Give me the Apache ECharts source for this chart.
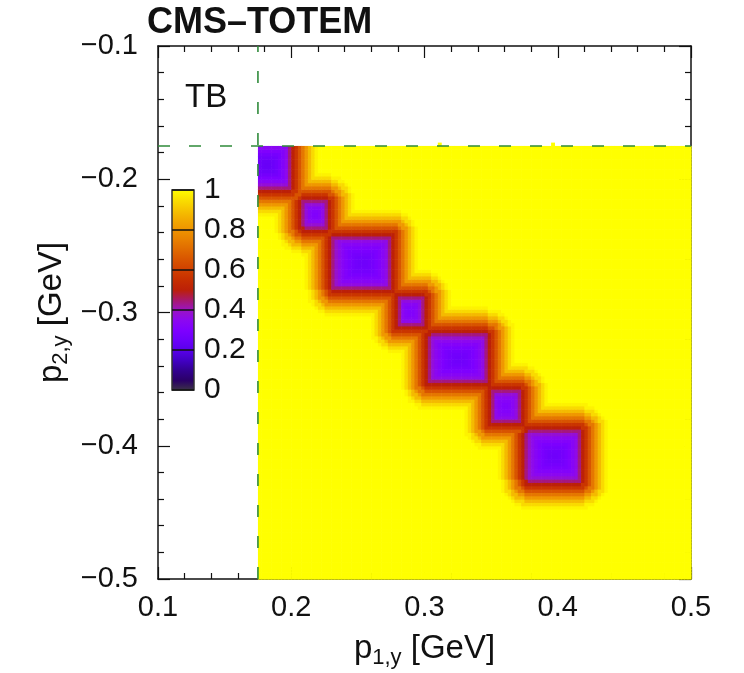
<!DOCTYPE html>
<html>
<head>
<meta charset="utf-8">
<title>CMS-TOTEM p1,y vs p2,y</title>
<script src="https://cdn.jsdelivr.net/npm/echarts@6/dist/echarts.min.js"></script>
<style>
  html, body { margin: 0; padding: 0; background: #ffffff; }
  #chart { width: 744px; height: 673px; }
</style>
</head>
<body>
<div id="chart"></div>
<script>
// ---- Binning of the map (GeV) ----
const binWidth = 0.0025;
const mapXRange = [0.175, 0.5];
const mapYRange = [-0.5, -0.175];

// ---- Low-acceptance islands along the diagonal ----
const islandCentreX = [0.182, 0.2178, 0.2536, 0.2895, 0.3255, 0.3607, 0.3974];
const islandCentreY = [-0.189, -0.2261, -0.2624, -0.2992, -0.3346, -0.3707, -0.4075];
const islandHalfX = [0.0165, 0.0075, 0.0200, 0.0082, 0.0206, 0.0094, 0.0187];
const islandHalfY = [0.0155, 0.0080, 0.0184, 0.0094, 0.0160, 0.0105, 0.0169];
const islandCentreValue = [0.24, 0.31, 0.26, 0.31, 0.26, 0.31, 0.26];
const islandEdgeValue = 0.39;
// values of the rim bins around an island, one bin further out per entry
const rimValues = [0.44, 0.50, 0.57, 0.65, 0.73, 0.81, 0.88, 0.94, 0.98];

// ---- Single filled bins just above the p2,y cut ----
const extraBinX = [0.31125, 0.39625];
const extraBinY = [-0.17375, -0.17375];
const extraBinValue = [1, 1];

// ---- Selection cuts (dashed lines) ----
const cutX = 0.175;
const cutY = -0.175;

// ---- Axes ----
const xRange = [0.1, 0.5];
const yRange = [-0.5, -0.1];
const tickStep = 0.1;
const xTickLabels = ['0.1', '0.2', '0.3', '0.4', '0.5'];
const yTickLabels = ['\u22120.5', '\u22120.4', '\u22120.3', '\u22120.2', '\u22120.1'];
const zRange = [0, 1];
const zStep = 0.2;
const zTickLabels = ['0', '0.2', '0.4', '0.6', '0.8', '1'];

// colour palette, evenly spaced over [0, 1]
const palette = [
  '#3d3545', '#2a0066', '#320090', '#4200c4', '#5800ea', '#6c00fa', '#7e00ff',
  '#8c08f0', '#9a14c4', '#a8186c', '#bc2008', '#c62e00', '#d04000', '#d85400',
  '#e06a00', '#e88000', '#ee9400', '#f2aa00', '#f6c400', '#fae000', '#ffff00'
];

const FONT = '"Liberation Sans", Arial, Helvetica, sans-serif';
const INK = '#111111';

// ---- Fill the map bins ----
function islandValue(k, x, y) {
  const ax = Math.abs(x - islandCentreX[k]);
  const ay = Math.abs(y - islandCentreY[k]);
  const hx = islandHalfX[k], hy = islandHalfY[k];
  if (ax <= hx && ay <= hy) {
    const r = Math.max(ax / hx, ay / hy);
    return islandCentreValue[k] + (islandEdgeValue - islandCentreValue[k]) * r * r;
  }
  const dx = Math.max(0, ax - hx) / binWidth;
  const dy = Math.max(0, ay - hy) / binWidth;
  const ring = Math.ceil(Math.sqrt(dx * dx + dy * dy)) - 1;
  return ring < rimValues.length ? rimValues[ring] : 1;
}

const cells = [];
const nX = Math.round((mapXRange[1] - mapXRange[0]) / binWidth);
const nY = Math.round((mapYRange[1] - mapYRange[0]) / binWidth);
for (let i = 0; i < nX; i++) {
  const x = mapXRange[0] + (i + 0.5) * binWidth;
  for (let j = 0; j < nY; j++) {
    const y = mapYRange[0] + (j + 0.5) * binWidth;
    let v = 1;
    for (let k = 0; k < islandCentreX.length; k++) {
      v = Math.min(v, islandValue(k, x, y));
    }
    cells.push([x, y, v]);
  }
}
for (let k = 0; k < extraBinX.length; k++) {
  cells.push([extraBinX[k], extraBinY[k], extraBinValue[k]]);
}

function renderCell(params, api) {
  const x = api.value(0), y = api.value(1);
  const p0 = api.coord([x - binWidth / 2, y + binWidth / 2]);
  const p1 = api.coord([x + binWidth / 2, y - binWidth / 2]);
  return {
    type: 'rect',
    shape: { x: p0[0], y: p0[1], width: p1[0] - p0[0] + 0.6, height: p1[1] - p0[1] + 0.6 },
    style: { fill: api.visual('color') }
  };
}

function renderColourBar(params, api) {
  const p0 = api.coord([0, zRange[1]]);
  const p1 = api.coord([1, zRange[0]]);
  const stops = palette.map((c, i) => ({ offset: i / (palette.length - 1), color: c }));
  return {
    type: 'rect',
    shape: { x: p0[0], y: p0[1], width: p1[0] - p0[0], height: p1[1] - p0[1] },
    style: {
      fill: { type: 'linear', x: 0, y: 1, x2: 0, y2: 0, colorStops: stops, global: false },
      stroke: '#333333',
      lineWidth: 1.5
    }
  };
}

const tickLine = { color: INK, width: 1.2 };
const frameLine = { show: true, onZero: false, lineStyle: { color: INK, width: 1.5 } };

function labelFrom(list, min) {
  return function (v) {
    const idx = Math.round((v - min) / tickStep);
    return list[idx] !== undefined ? list[idx] : '';
  };
}

const subRich = {
  a: { fontSize: 33, fontFamily: FONT, color: INK },
  s: { fontSize: 22, fontFamily: FONT, color: INK, padding: [18, 0, 0, 0] }
};

function mainAxis(dim, position, withLabels) {
  const isX = dim === 'x';
  const range = isX ? xRange : yRange;
  const axis = {
    gridIndex: 0,
    type: 'value',
    position: position,
    min: range[0],
    max: range[1],
    interval: tickStep,
    axisLine: frameLine,
    axisTick: { show: true, inside: true, length: 12, lineStyle: tickLine },
    minorTick: { show: true, splitNumber: 5, length: 6, lineStyle: tickLine },
    splitLine: { show: false },
    minorSplitLine: { show: false },
    axisLabel: { show: false },
    nameMoveOverlap: false
  };
  if (withLabels) {
    axis.axisLabel = {
      show: true,
      fontSize: 29,
      fontFamily: FONT,
      color: INK,
      margin: isX ? 14 : 20,
      showMinLabel: true,
      showMaxLabel: true,
      formatter: isX ? labelFrom(xTickLabels, xRange[0]) : labelFrom(yTickLabels, yRange[0])
    };
    axis.nameLocation = 'middle';
    axis.nameTextStyle = { rich: subRich };
    if (isX) {
      axis.name = '{a|p}{s|1,y}{a| [GeV]}';
      axis.nameGap = 50;
    } else {
      axis.name = '{a|p}{s|2,y}{a| [GeV]}';
      axis.nameGap = 86;
      axis.nameRotate = 90;
    }
  }
  return axis;
}

const chart = echarts.init(document.getElementById('chart'), null, { renderer: 'canvas' });

chart.setOption({
  animation: false,
  backgroundColor: '#ffffff',
  title: {
    text: 'CMS\u2013TOTEM',
    left: 147,
    top: 5,
    padding: 0,
    textStyle: { fontSize: 36, fontWeight: 'bold', fontFamily: FONT, color: INK }
  },
  graphic: [{
    type: 'text',
    left: 185,
    top: 81,
    style: { text: 'TB', fontSize: 33, fontFamily: FONT, fill: INK }
  }],
  grid: [
    { left: 158, top: 46, width: 533, height: 533, outerBoundsMode: 'none' },
    { left: 172, top: 190, width: 22, height: 200, outerBoundsMode: 'none' }
  ],
  xAxis: [
    mainAxis('x', 'bottom', true),
    mainAxis('x', 'top', false),
    { gridIndex: 1, type: 'value', min: 0, max: 1, show: false }
  ],
  yAxis: [
    mainAxis('y', 'left', true),
    mainAxis('y', 'right', false),
    {
      gridIndex: 1,
      type: 'value',
      position: 'right',
      min: zRange[0],
      max: zRange[1],
      interval: zStep,
      z: 5,
      axisLine: { show: false },
      axisTick: { show: false },
      splitLine: { show: true, lineStyle: { color: INK, width: 1.5 } },
      axisLabel: {
        show: true,
        fontSize: 30,
        fontFamily: FONT,
        color: INK,
        margin: 10,
        showMinLabel: true,
        showMaxLabel: true,
        formatter: function (v) {
          const idx = Math.round((v - zRange[0]) / zStep);
          return zTickLabels[idx] !== undefined ? zTickLabels[idx] : '';
        }
      }
    }
  ],
  visualMap: {
    type: 'continuous',
    show: false,
    min: zRange[0],
    max: zRange[1],
    dimension: 2,
    seriesIndex: 0,
    inRange: { color: palette }
  },
  series: [
    {
      type: 'custom',
      name: 'acceptance',
      xAxisIndex: 0,
      yAxisIndex: 0,
      clip: true,
      silent: true,
      encode: { x: 0, y: 1 },
      renderItem: renderCell,
      data: cells
    },
    {
      type: 'custom',
      name: 'colour scale',
      xAxisIndex: 2,
      yAxisIndex: 2,
      silent: true,
      z: 2,
      renderItem: renderColourBar,
      data: [[0, 0]]
    },
    {
      type: 'line',
      name: 'p1,y cut',
      xAxisIndex: 0,
      yAxisIndex: 0,
      z: 4,
      silent: true,
      showSymbol: false,
      symbol: 'none',
      lineStyle: { color: '#2f8a3a', width: 1.6, type: [12, 19] },
      data: [[cutX, yRange[0]], [cutX, yRange[1]]]
    },
    {
      type: 'line',
      name: 'p2,y cut',
      xAxisIndex: 0,
      yAxisIndex: 0,
      z: 4,
      silent: true,
      showSymbol: false,
      symbol: 'none',
      lineStyle: { color: '#2f8a3a', width: 1.6, type: [12, 19] },
      data: [[xRange[0], cutY], [xRange[1], cutY]]
    }
  ]
});
</script>
</body>
</html>
